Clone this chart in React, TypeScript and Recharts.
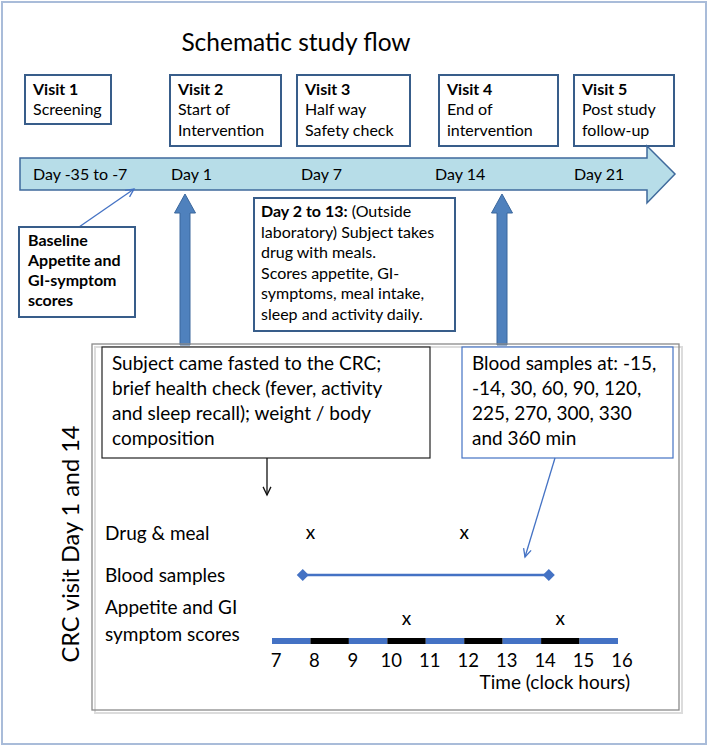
import React from 'react';
import { ComposedChart, XAxis, YAxis, Scatter, Line, ReferenceLine, Customized } from 'recharts';

const FONT = 'Lato, "Liberation Sans", sans-serif';

// ---- texts ----
const chartTitle = 'Schematic study flow';
const visitNames = ['Visit 1', 'Visit 2', 'Visit 3', 'Visit 4', 'Visit 5'];
const visitDescriptions = [
  ['Screening'],
  ['Start of', 'Intervention'],
  ['Half way', 'Safety check'],
  ['End of', 'intervention'],
  ['Post study', 'follow-up'],
];
const dayLabels = ['Day -35 to -7', 'Day 1', 'Day 7', 'Day 14', 'Day 21'];
const baselineLines = ['Baseline', 'Appetite and', 'GI-symptom', 'scores'];
const betweenVisitsLead = 'Day 2 to 13:';
const betweenVisitsLines = [
  ' (Outside',
  'laboratory) Subject takes',
  'drug with meals.',
  'Scores appetite, GI-',
  'symptoms, meal intake,',
  'sleep and activity daily.',
];
const arrivalLines = [
  'Subject came fasted to the CRC;',
  'brief health check (fever, activity',
  'and sleep recall); weight / body',
  'composition',
];
const bloodSampleLines = ['Blood samples at: -15,', '-14, 30, 60, 90, 120,', '225, 270, 300, 330', 'and 360 min'];
const sideLabel = 'CRC visit Day 1 and 14';
const rowLabels = ['Drug & meal', 'Blood samples', 'Appetite and GI', 'symptom scores'];
const axisTitle = 'Time (clock hours)';

// ---- data (clock hours) ----
const timeTicks = [7, 8, 9, 10, 11, 12, 13, 14, 15, 16];
const darkHours = [8, 10, 12, 14];
const drugMealTimes = [8, 12];
const bloodSampleWindow = [7.8, 14.2];
const symptomScoreTimes = [10.5, 14.5];

// ---- layout ----
const ROW = { drug: 111, blood: 75, symptom: 25, timeline: 9 };
const visitX = [25, 170, 297, 439, 574];
const visitW = [86, 111, 113, 119, 100];
const visitH = [49, 71, 71, 71, 71];
const dayX = [33, 171, 301, 435, 574];
const lineY3 = [95, 115, 136];

const DARK_BLUE = '#385d8a';
const MID_BLUE = '#4472c4';

function headPath(x1: number, y1: number, x2: number, y2: number, len = 9, spread = 0.45) {
  const a = Math.atan2(y2 - y1, x2 - x1);
  const p1x = x2 - len * Math.cos(a - spread);
  const p1y = y2 - len * Math.sin(a - spread);
  const p2x = x2 - len * Math.cos(a + spread);
  const p2y = y2 - len * Math.sin(a + spread);
  return `M${p1x},${p1y} L${x2},${y2} L${p2x},${p2y}`;
}

function ThinArrow({ x1, y1, x2, y2, color }: any) {
  return (
    <g stroke={color} strokeWidth={1.3} fill="none">
      <line x1={x1} y1={y1} x2={x2} y2={y2} />
      <path d={headPath(x1, y1, x2, y2)} />
    </g>
  );
}

function ThickUpArrow({ cx }: { cx: number }) {
  const tip = 194, base = 213, bottom = 345, hw = 10.5, sw = 5;
  const pts = [
    [cx, tip], [cx + hw, base], [cx + sw, base], [cx + sw, bottom],
    [cx - sw, bottom], [cx - sw, base], [cx - hw, base],
  ].map((p) => p.join(',')).join(' ');
  return <polygon points={pts} fill="#4f81bd" stroke="#3b679c" strokeWidth={1} />;
}

function Decor() {
  return (
    <g fontFamily={FONT} fill="#000">
      <rect x={2} y={2} width={704} height={742} fill="none" stroke="#a9bcd9" strokeWidth={2} />
      <text x={296} y={51} textAnchor="middle" fontSize={24.5}>{chartTitle}</text>

      {visitNames.map((name, i) => (
        <g key={name}>
          <rect x={visitX[i]} y={75} width={visitW[i]} height={visitH[i]} fill="#fff" stroke={DARK_BLUE} strokeWidth={2} />
          <text x={visitX[i] + 8} y={lineY3[0]} fontSize={16} fontWeight="bold">{name}</text>
          {visitDescriptions[i].map((l, j) => (
            <text key={l} x={visitX[i] + 8} y={lineY3[j + 1]} fontSize={16}>{l}</text>
          ))}
        </g>
      ))}

      <polygon points="20,158 647,158 647,146 675,174 647,203 647,190 20,190" fill="#b7dde8" stroke="#3f6a9c" strokeWidth={1.5} />
      {dayLabels.map((d, i) => (
        <text key={d} x={dayX[i]} y={180} fontSize={16}>{d}</text>
      ))}

      <ThinArrow x1={79} y1={227} x2={134} y2={189} color={MID_BLUE} />
      <rect x={19} y={227} width={116} height={90} fill="#fff" stroke={DARK_BLUE} strokeWidth={2} />
      {baselineLines.map((l, j) => (
        <text key={l} x={28} y={246 + j * 20} fontSize={16} fontWeight="bold">{l}</text>
      ))}

      <ThickUpArrow cx={185} />
      <ThickUpArrow cx={502} />

      <rect x={254} y={198} width={201} height={133} fill="#fff" stroke={DARK_BLUE} strokeWidth={2} />
      {betweenVisitsLines.map((l, j) => (
        <text key={l} x={261} y={217 + j * 20.6} fontSize={16}>
          {j === 0 ? <tspan fontWeight="bold">{betweenVisitsLead}</tspan> : null}
          <tspan>{l}</tspan>
        </text>
      ))}

      <rect x={95} y={347} width={587} height={366} fill="none" stroke="#dcdcdc" strokeWidth={2} />
      <rect x={92} y={344} width={587} height={366} fill="none" stroke="#8a8a8a" strokeWidth={1.3} />

      <rect x={102} y={347} width={328} height={111} fill="#fff" stroke="#222" strokeWidth={1.2} />
      {arrivalLines.map((l, j) => (
        <text key={l} x={112} y={370 + j * 25} fontSize={19}>{l}</text>
      ))}
      <rect x={462} y={347} width={211} height={111} fill="#fff" stroke={MID_BLUE} strokeWidth={1.2} />
      {bloodSampleLines.map((l, j) => (
        <text key={l} x={472} y={370 + j * 25} fontSize={19}>{l}</text>
      ))}

      <ThinArrow x1={267} y1={458} x2={267} y2={495} color="#111" />
      <ThinArrow x1={555} y1={458} x2={525} y2={557} color={MID_BLUE} />

      <text x={79} y={544} transform="rotate(-90 79 544)" textAnchor="middle" fontSize={23.5}>{sideLabel}</text>

      <text x={105} y={540} fontSize={19}>{rowLabels[0]}</text>
      <text x={105} y={582} fontSize={19}>{rowLabels[1]}</text>
      <text x={105} y={614} fontSize={19}>{rowLabels[2]}</text>
      <text x={105} y={641} fontSize={19}>{rowLabels[3]}</text>

      <text x={630} y={689} textAnchor="end" fontSize={19}>{axisTitle}</text>
    </g>
  );
}

function TimeTick(props: any) {
  const { x, y, payload } = props;
  return (
    <text x={x + 4} y={y + 17} textAnchor="middle" fontSize={18.5} fontFamily={FONT} fill="#000">
      {payload.value}
    </text>
  );
}

const XMark = (props: any) => (
  <text x={props.cx} y={props.cy} textAnchor="middle" fontSize={19} fontFamily={FONT} fill="#000">x</text>
);

const Diamond = (props: any) => {
  const { cx, cy, index } = props;
  return <path key={`d${index}`} d={`M${cx},${cy - 6} L${cx + 6},${cy} L${cx},${cy + 6} L${cx - 6},${cy} Z`} fill={MID_BLUE} />;
};

export default function App() {
  const drugData = drugMealTimes.map((t) => ({ t, row: ROW.drug }));
  const bloodData = bloodSampleWindow.map((t) => ({ t, row: ROW.blood }));
  const symptomData = symptomScoreTimes.map((t) => ({ t, row: ROW.symptom }));
  const segments = timeTicks.slice(0, -1);

  return (
    <div style={{ position: 'absolute', left: 0, top: 0, width: 709, height: 748, background: '#fff' }}>
      <ComposedChart width={709} height={748} margin={{ top: 490, right: 91, bottom: 68, left: 272 }}>
        <Customized component={<Decor />} />
        <XAxis
          type="number"
          dataKey="t"
          domain={[7, 16]}
          ticks={timeTicks}
          height={30}
          axisLine={false}
          tickLine={false}
          tickSize={0}
          tickMargin={0}
          tick={<TimeTick />}
          allowDataOverflow
        />
        <YAxis type="number" dataKey="row" domain={[0, 160]} hide width={0} />
        {segments.map((h) => (
          <ReferenceLine
            key={h}
            segment={[{ x: h, y: ROW.timeline }, { x: h + 1, y: ROW.timeline }]}
            stroke={darkHours.includes(h) ? '#000' : MID_BLUE}
            strokeWidth={6}
            ifOverflow="visible"
          />
        ))}
        <Line data={bloodData} dataKey="row" stroke={MID_BLUE} strokeWidth={2.5} dot={<Diamond />} isAnimationActive={false} />
        <Scatter data={drugData} dataKey="row" shape={<XMark />} isAnimationActive={false} />
        <Scatter data={symptomData} dataKey="row" shape={<XMark />} isAnimationActive={false} />
      </ComposedChart>
    </div>
  );
}
